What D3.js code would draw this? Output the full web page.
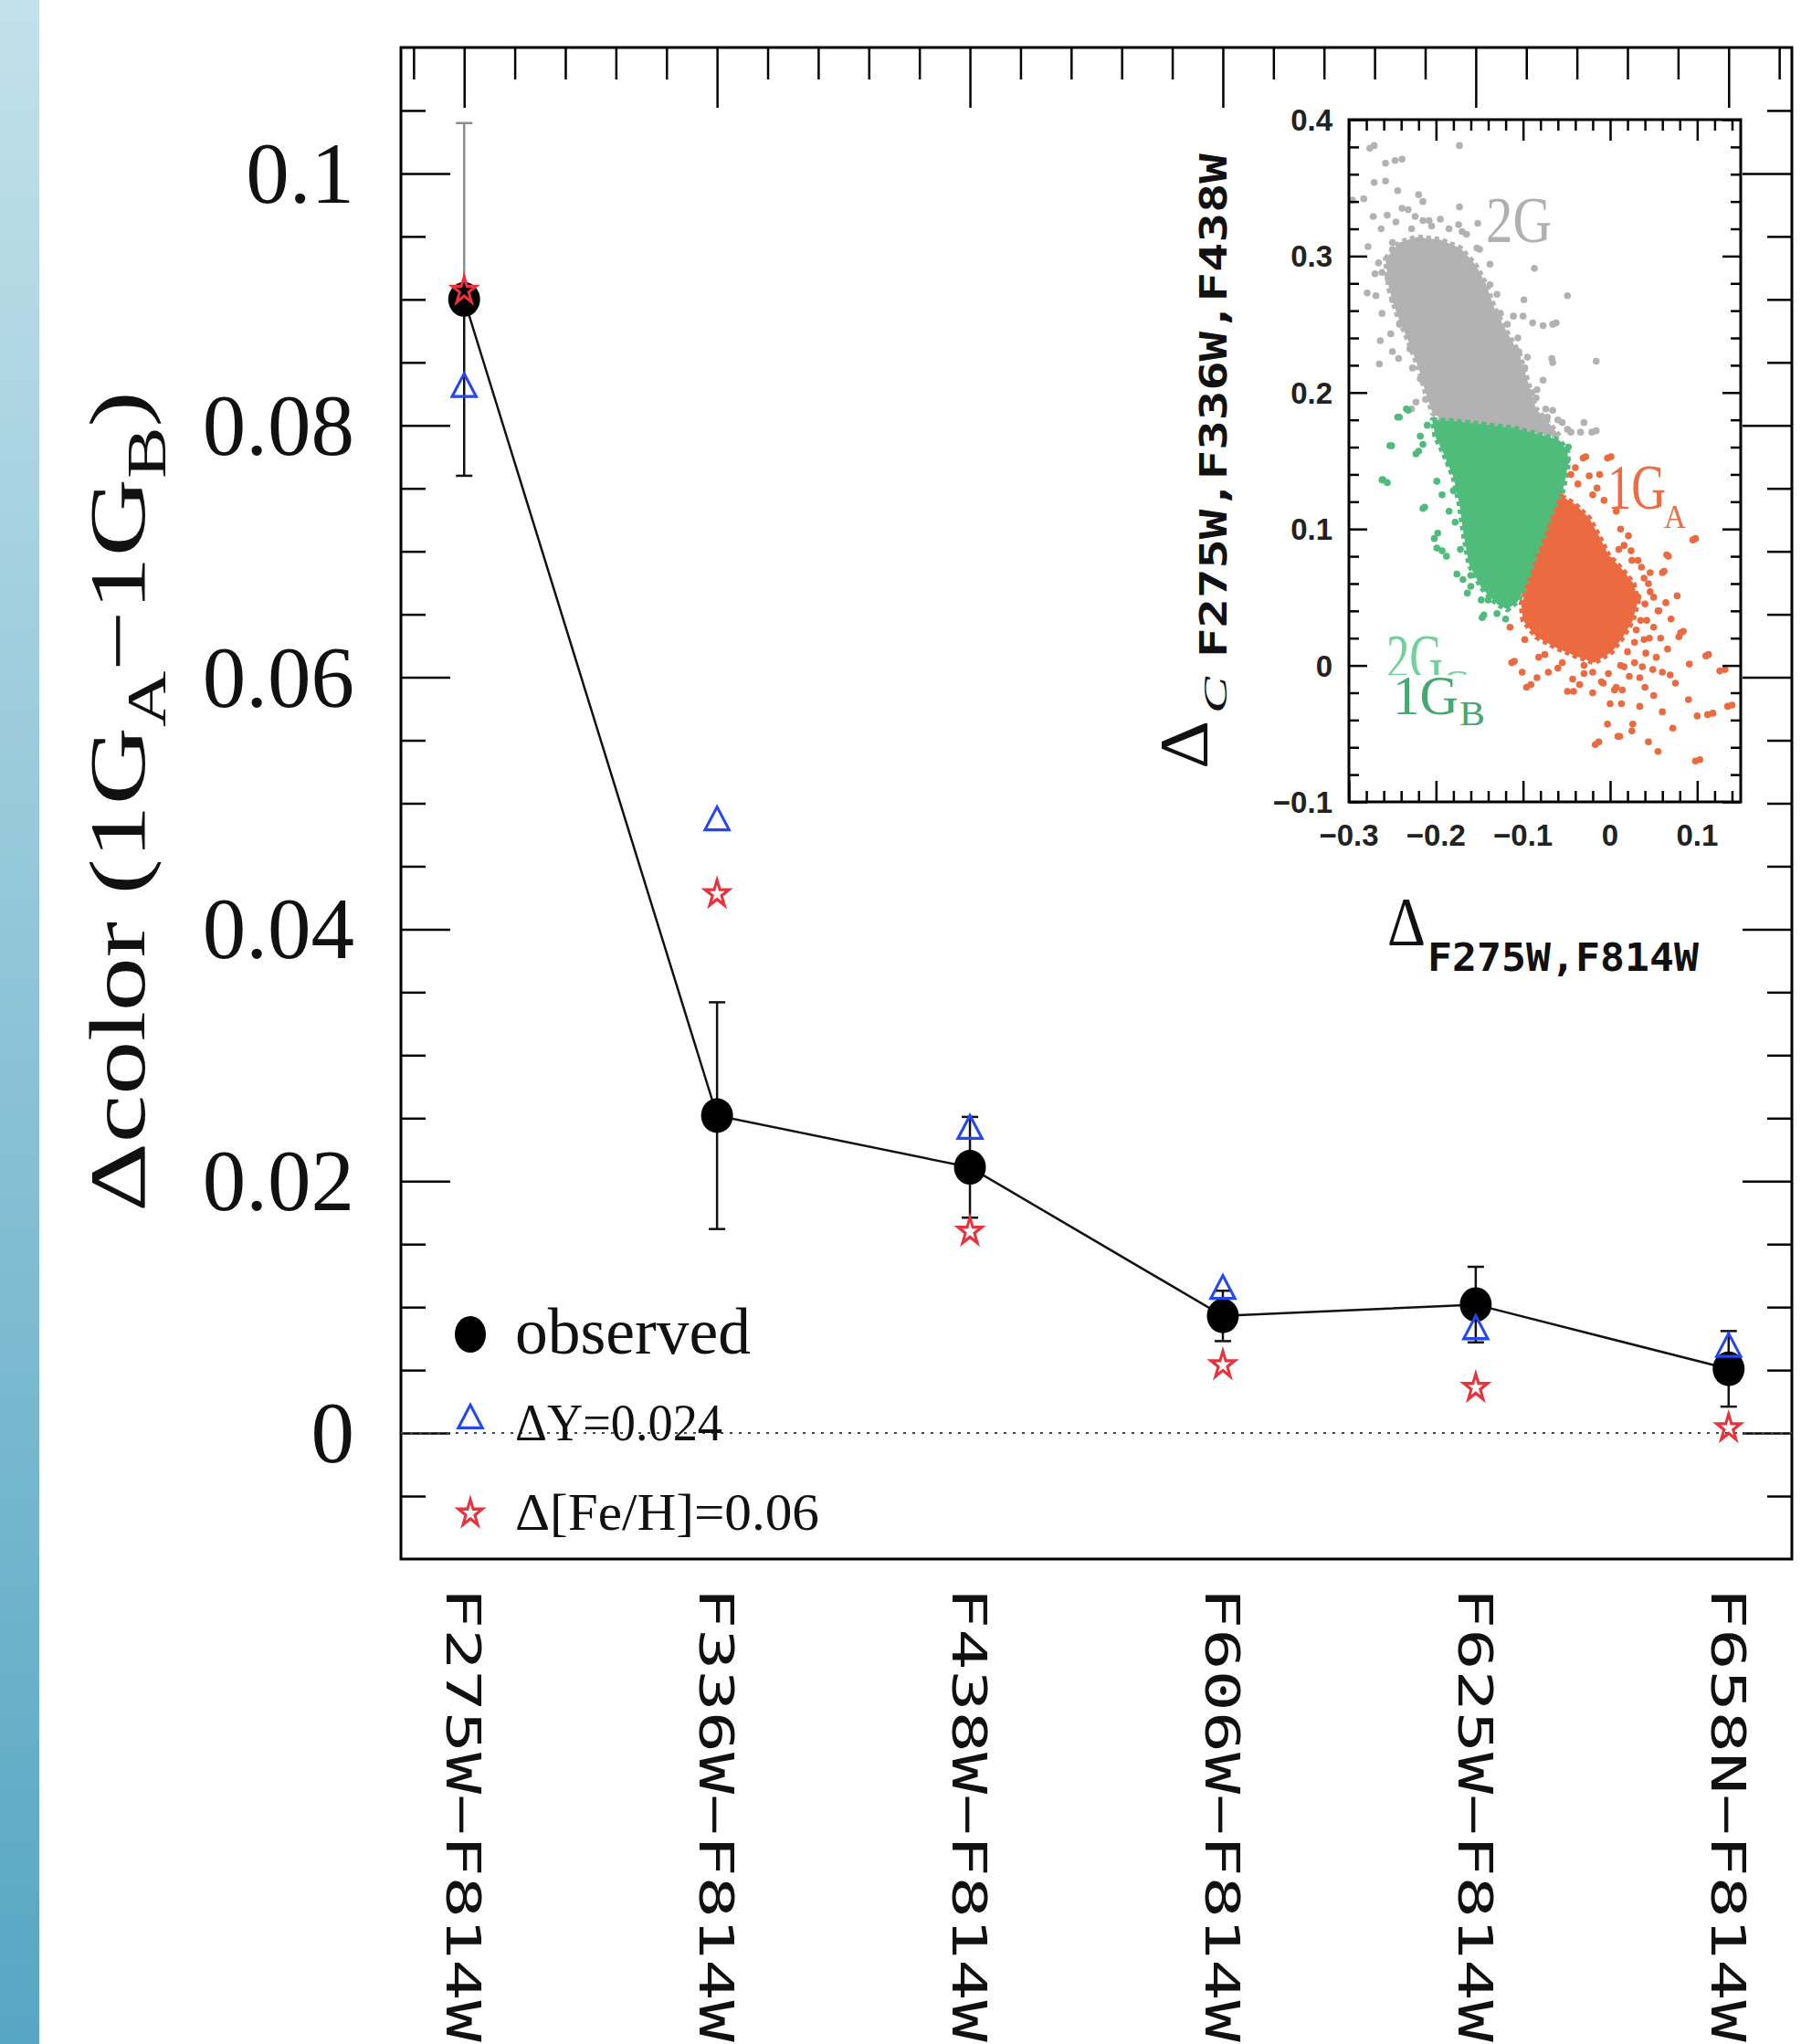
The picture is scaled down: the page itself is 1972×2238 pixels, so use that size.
<!DOCTYPE html>
<html>
<head>
<meta charset="utf-8">
<script src="https://cdn.jsdelivr.net/npm/d3@7"></script>
<style>
  html, body { margin: 0; padding: 0; background: #fff; }
  svg { display: block; }
</style>
</head>
<body>
<script>
// ---------------- data ----------------
var filters = ["F275W\u2212F814W", "F336W\u2212F814W", "F438W\u2212F814W",
               "F606W\u2212F814W", "F625W\u2212F814W", "F658N\u2212F814W"];
var observed    = [0.0900, 0.0252, 0.0211, 0.0093, 0.0102, 0.0051];
var observedErr = [0.0140, 0.0090, 0.0040, 0.0020, 0.0030, 0.0030];
var heliumModel = [0.0829, 0.0485, 0.0240, 0.0113, 0.0081, 0.0067];   // ΔY=0.024
var metalModel  = [0.0907, 0.0428, 0.0160, 0.0054, 0.0036, 0.0004];   // Δ[Fe/H]=0.06
var legendLabels = ["observed", "\u0394Y=0.024", "\u0394[Fe/H]=0.06"];

var yTickValues = [0, 0.02, 0.04, 0.06, 0.08, 0.1];
var yTickLabels = ["0", "0.02", "0.04", "0.06", "0.08", "0.1"];

// inset chromosome map
var insetXTicks  = [-0.3, -0.2, -0.1, 0, 0.1];
var insetXLabels = ["\u22120.3", "\u22120.2", "\u22120.1", "0", "0.1"];
var insetYTicks  = [-0.1, 0, 0.1, 0.2, 0.3, 0.4];
var insetYLabels = ["\u22120.1", "0", "0.1", "0.2", "0.3", "0.4"];

// dense cores of each population (outline of the crowded region)
var grayCore = [[-0.258,0.298],[-0.242,0.310],[-0.222,0.314],[-0.195,0.312],[-0.172,0.306],[-0.155,0.294],
  [-0.143,0.280],[-0.133,0.262],[-0.120,0.246],[-0.104,0.228],[-0.094,0.207],[-0.085,0.188],[-0.068,0.176],
  [-0.058,0.168],[-0.080,0.170],[-0.111,0.173],[-0.150,0.176],[-0.190,0.179],[-0.204,0.185],[-0.212,0.200],
  [-0.220,0.218],[-0.232,0.238],[-0.244,0.256],[-0.254,0.276]];
var greenCore = [[-0.204,0.180],[-0.180,0.179],[-0.150,0.177],[-0.111,0.174],[-0.080,0.169],[-0.058,0.165],
  [-0.049,0.157],[-0.048,0.148],[-0.052,0.135],[-0.056,0.124],[-0.065,0.111],[-0.075,0.095],[-0.086,0.077],
  [-0.096,0.059],[-0.106,0.047],[-0.118,0.041],[-0.130,0.045],[-0.148,0.057],[-0.162,0.074],[-0.168,0.095],
  [-0.173,0.118],[-0.180,0.138],[-0.191,0.155],[-0.201,0.168]];
var orangeCore = [[-0.056,0.124],[-0.040,0.118],[-0.024,0.108],[-0.012,0.094],[-0.002,0.081],[0.013,0.071],
  [0.027,0.060],[0.032,0.047],[0.026,0.033],[0.015,0.021],[0.002,0.010],[-0.018,0.002],[-0.040,0.007],
  [-0.062,0.013],[-0.085,0.021],[-0.100,0.033],[-0.102,0.045],[-0.094,0.059],[-0.084,0.077],[-0.073,0.095],
  [-0.064,0.111]];

// individual stars outside / on the edge of the cores
var grayStars = [[-0.271,0.381],[-0.173,0.381],[-0.258,0.368],[-0.239,0.371],[-0.271,0.354],[-0.258,0.355],
  [-0.244,0.348],[-0.283,0.342],[-0.296,0.341],[-0.220,0.345],[-0.215,0.340],[-0.239,0.335],[-0.232,0.334],
  [-0.224,0.329],[-0.173,0.336],[-0.195,0.327],[-0.215,0.326],[-0.208,0.326],[-0.174,0.323],[-0.170,0.318],
  [-0.152,0.324],[-0.272,0.329],[-0.256,0.330],[-0.246,0.325],[-0.263,0.320],[-0.278,0.307],[-0.153,0.306],
  [-0.138,0.294],[-0.087,0.291],[-0.049,0.271],[-0.099,0.268],[-0.279,0.273],[-0.269,0.271],[-0.270,0.287],
  [-0.126,0.258],[-0.111,0.256],[-0.100,0.256],[-0.089,0.251],[-0.077,0.249],[-0.066,0.250],[-0.138,0.279],
  [-0.264,0.238],[-0.265,0.221],[-0.250,0.230],[-0.243,0.225],[-0.227,0.218],[-0.223,0.193],[-0.228,0.188],
  [-0.066,0.222],[-0.077,0.209],[-0.066,0.187],[-0.049,0.173],[-0.060,0.180],[-0.098,0.218],[-0.090,0.200],
  [-0.105,0.230],[-0.045,0.171],[-0.021,0.171],[-0.034,0.171],[-0.055,0.178],[-0.016,0.223],[-0.062,0.251],
  [-0.067,0.225],[-0.030,0.178],[-0.016,0.172],[-0.084,0.202],[-0.072,0.182],[-0.276,0.379],[-0.247,0.370],
  [-0.266,0.295],[-0.255,0.284],[-0.250,0.268],[-0.262,0.258],[-0.252,0.243],[-0.240,0.300],[-0.250,0.305],
  [-0.130,0.272],[-0.118,0.250],[-0.106,0.240],[-0.095,0.226],[-0.085,0.196],[-0.074,0.188],[-0.150,0.305],
  [-0.165,0.316],[-0.185,0.320],[-0.205,0.322],[-0.228,0.320],[-0.250,0.310],[-0.262,0.288],[-0.242,0.250],
  [-0.230,0.232],[-0.218,0.210],[-0.212,0.195]];
var greenStars = [[-0.242,0.182],[-0.232,0.187],[-0.251,0.161],[-0.261,0.136],[-0.256,0.134],[-0.220,0.157],
  [-0.213,0.116],[-0.198,0.097],[-0.193,0.084],[-0.169,0.063],[-0.160,0.058],[-0.145,0.037],[-0.164,0.053],
  [-0.148,0.048],[-0.147,0.035],[-0.176,0.067],[-0.130,0.038],[-0.234,0.188],[-0.244,0.182],[-0.253,0.161],
  [-0.262,0.136],[-0.223,0.155],[-0.218,0.168],[-0.215,0.162],[-0.215,0.115],[-0.199,0.135],[-0.193,0.125],
  [-0.202,0.093],[-0.199,0.086],[-0.188,0.080],[-0.185,0.148],[-0.180,0.128],[-0.178,0.105],[-0.172,0.085],
  [-0.160,0.066],[-0.140,0.048],[-0.120,0.034],[-0.210,0.176],[-0.196,0.170],[-0.188,0.160],[-0.185,0.113],
  [-0.176,0.140],[-0.048,0.160],[-0.050,0.150]];
var orangeStars = [[-0.115,0.028],[-0.113,0.002],[-0.101,-0.005],[-0.096,-0.016],[-0.084,-0.009],[-0.071,-0.005],
  [-0.082,0.006],[-0.098,0.019],[-0.043,-0.010],[-0.042,-0.019],[-0.017,-0.058],[-0.003,-0.043],[0.009,-0.052],
  [0.025,-0.048],[0.026,-0.043],[0.013,-0.028],[0.014,-0.018],[0.007,-0.016],[-0.008,-0.013],[0.016,-0.001],
  [0.034,-0.030],[0.034,-0.009],[0.044,-0.056],[0.055,-0.063],[0.060,-0.034],[0.072,-0.046],[0.090,-0.025],
  [0.100,-0.037],[0.098,-0.070],[0.112,-0.036],[0.135,-0.030],[0.126,-0.004],[0.110,0.007],[0.091,0.001],
  [0.075,-0.013],[0.069,-0.007],[0.060,-0.005],[0.049,-0.003],[0.037,-0.001],[0.041,0.009],[0.053,0.006],
  [0.079,0.021],[0.077,0.051],[0.056,0.040],[0.042,0.033],[0.039,0.019],[0.035,0.033],[0.028,0.017],
  [0.005,-0.018],[-0.049,-0.019],[-0.010,-0.012],[-0.020,-0.005],[0.060,0.068],[-0.031,0.152],[-0.003,0.152],
  [-0.024,0.139],[-0.037,0.133],[-0.015,0.130],[-0.007,0.121],[0.007,0.113],[0.021,0.095],[0.095,0.092],
  [0.065,0.081],[0.062,0.069],[0.046,0.068],[0.039,0.064],[0.025,0.077],[0.032,0.077],[0.000,0.077],
  [-0.003,0.071],[0.003,0.064],[0.032,0.050],[0.046,0.054],[0.055,0.040],[0.081,0.024],[0.018,0.035],
  [0.007,0.019],[-0.028,0.153],[0.001,0.153],[0.098,0.093],[0.067,0.080],[0.084,0.025],[0.113,0.008],
  [0.132,-0.003],[0.140,-0.029],[0.118,-0.035],[0.103,-0.069],[-0.013,-0.056],[-0.110,0.003],[-0.091,-0.014],
  [0.011,-0.052],[0.020,0.010],[0.028,0.002],[0.012,0.000],[-0.002,-0.006],[-0.030,-0.006],[-0.055,0.002],
  [-0.075,0.008],[0.045,0.020],[0.050,0.028],[0.040,0.045],[0.020,0.045],[0.010,0.055],[-0.030,0.000],
  [-0.045,0.140],[-0.040,0.145],[-0.020,0.125],[0.012,0.100],[0.010,0.085],[-0.012,0.140],
  [0.016,0.088],[0.024,0.084],[0.036,0.072],[0.044,0.060],[0.050,0.050],[0.064,0.046],[0.070,0.034],
  [0.058,0.020],[0.066,0.012],[0.022,-0.008],[0.040,-0.016],[0.050,-0.022],[-0.060,-0.002],[-0.035,-0.014],
  [-0.020,-0.020],[0.000,-0.028],[0.030,0.026],[0.006,0.030],[-0.010,0.044]];

// ---------------- page ----------------
var W = 1972, H = 2238;
var svg = d3.select("body").append("svg").attr("width", W).attr("height", H);

var serif = "'Liberation Serif', 'Times New Roman', serif";
var mono  = "'DejaVu Sans Mono', monospace";
var sans  = "'Liberation Sans', Arial, sans-serif";

// blue slide strip on the left
var grad = svg.append("defs").append("linearGradient").attr("id", "strip")
  .attr("x1", 0).attr("y1", 0).attr("x2", 0).attr("y2", 1);
grad.append("stop").attr("offset", "0%").attr("stop-color", "#c2e1ea");
grad.append("stop").attr("offset", "100%").attr("stop-color", "#57a6c3");
svg.append("rect").attr("x", 0).attr("y", 0).attr("width", 43).attr("height", H).attr("fill", "url(#strip)");

// puts a text at (x,y), rotated, stretched along its own direction to a given length
function fitText(t, x, y, rot, len) {
  var s = 1;
  if (len) s = len / t.node().getComputedTextLength();
  t.attr("transform", "translate(" + x + "," + y + ") rotate(" + rot + ") scale(" + s + ",1)");
  return t;
}

// ---------------- main panel ----------------
var mL = 439, mR = 1962, mT = 52, mB = 1707;
var x = d3.scaleLinear().domain([0.75, 6.25]).range([mL, mR]);
var y = d3.scaleLinear().domain([-0.01, 0.11]).range([mB, mT]);
var cat = function(i) { return x(i + 1); };

var main = svg.append("g");

function tickAxis(axis, tr, vals, size) {
  main.append("g").attr("transform", tr)
    .call(axis.tickValues(vals).tickSize(size).tickFormat(""))
    .call(function(g) {
      g.select(".domain").remove();
      g.selectAll("line").attr("stroke", "#000").attr("stroke-width", 2.5);
    });
}
var xMinor = d3.range(4, 32).filter(function(k) { return k % 5 !== 0; }).map(function(k) { return k / 5; });
var xMajor = d3.range(1, 7);
var yMinor = d3.range(-1, 22).filter(function(k) { return k % 4 !== 0; }).map(function(k) { return k * 0.005; });

tickAxis(d3.axisBottom(x), "translate(0," + mT + ")", xMajor, 66);
tickAxis(d3.axisBottom(x), "translate(0," + mT + ")", xMinor, 35);
tickAxis(d3.axisRight(y), "translate(" + mL + ",0)", yTickValues, 54);
tickAxis(d3.axisRight(y), "translate(" + mL + ",0)", yMinor, 27);
tickAxis(d3.axisLeft(y), "translate(" + mR + ",0)", yTickValues, 54);
tickAxis(d3.axisLeft(y), "translate(" + mR + ",0)", yMinor, 27);

main.append("rect").attr("x", mL).attr("y", mT)
  .attr("width", mR - mL).attr("height", mB - mT)
  .attr("fill", "none").attr("stroke", "#000").attr("stroke-width", 3);

// y tick labels
yTickValues.forEach(function(v, i) {
  main.append("text").attr("x", 388).attr("y", y(v) + 32)
    .attr("text-anchor", "end").attr("font-family", serif).attr("font-size", 95)
    .attr("fill", "#111").text(yTickLabels[i]);
});

// x tick labels, rotated, reading downward
filters.forEach(function(f, i) {
  var t = main.append("text").attr("font-family", mono).attr("font-size", 52)
    .attr("fill", "#111").text(f);
  fitText(t, cat(i) - 19, 1738, 90, 498);
});

// y axis title
var yt = main.append("text").attr("font-family", serif).attr("font-size", 86).attr("fill", "#111");
yt.append("tspan").text("\u0394color (1G");
yt.append("tspan").attr("font-size", 62).attr("dy", 23).text("A");
yt.append("tspan").attr("dy", -23).text("\u22121G");
yt.append("tspan").attr("font-size", 62).attr("dy", 23).text("B");
yt.append("tspan").attr("dy", -23).text(")");
fitText(yt, 158, 1327, -90, 899);

// zero line
main.append("line").attr("x1", mL).attr("x2", mR).attr("y1", y(0)).attr("y2", y(0))
  .attr("stroke", "#444").attr("stroke-width", 2).attr("stroke-dasharray", "3,7");

// observed sequence
main.append("path").datum(observed)
  .attr("d", d3.line().x(function(d, i) { return cat(i); }).y(function(d) { return y(d); }))
  .attr("fill", "none").attr("stroke", "#111").attr("stroke-width", 2.5);

observed.forEach(function(v, i) {
  var cx = cat(i), e = observedErr[i];
  var upColor = i === 0 ? "#8c8c8c" : "#111";
  main.append("line").attr("x1", cx).attr("x2", cx).attr("y1", y(v)).attr("y2", y(v + e))
    .attr("stroke", upColor).attr("stroke-width", 2.5);
  main.append("line").attr("x1", cx - 9).attr("x2", cx + 9).attr("y1", y(v + e)).attr("y2", y(v + e))
    .attr("stroke", upColor).attr("stroke-width", 2.5);
  main.append("line").attr("x1", cx).attr("x2", cx).attr("y1", y(v)).attr("y2", y(v - e))
    .attr("stroke", "#111").attr("stroke-width", 2.5);
  main.append("line").attr("x1", cx - 9).attr("x2", cx + 9).attr("y1", y(v - e)).attr("y2", y(v - e))
    .attr("stroke", "#111").attr("stroke-width", 2.5);
});

main.selectAll("ellipse.obs").data(observed).join("ellipse").attr("class", "obs")
  .attr("cx", function(d, i) { return cat(i); }).attr("cy", function(d) { return y(d); })
  .attr("rx", 17.5).attr("ry", 19).attr("fill", "#000");

var triSym = d3.symbol().type(d3.symbolTriangle).size(300);
var starSym = d3.symbol().type(d3.symbolStar).size(210);
var blue = "#2448ee", red = "#e8323c";

main.selectAll("path.he").data(heliumModel).join("path").attr("class", "he")
  .attr("d", triSym)
  .attr("transform", function(d, i) { return "translate(" + cat(i) + "," + y(d) + ") scale(1,1.1)"; })
  .attr("fill", "none").attr("stroke", blue).attr("stroke-width", 3);

main.selectAll("path.fe").data(metalModel).join("path").attr("class", "fe")
  .attr("d", starSym)
  .attr("transform", function(d, i) { return "translate(" + cat(i) + "," + y(d) + ") scale(1,1.12)"; })
  .attr("fill", "none").attr("stroke", red).attr("stroke-width", 3);

// legend
var lg = main.append("g");
lg.append("ellipse").attr("cx", 515).attr("cy", 1461).attr("rx", 17).attr("ry", 20).attr("fill", "#000");
lg.append("path").attr("d", triSym).attr("transform", "translate(515,1555) scale(1,1.1)")
  .attr("fill", "none").attr("stroke", blue).attr("stroke-width", 3);
lg.append("path").attr("d", starSym).attr("transform", "translate(515,1657) scale(1,1.12)")
  .attr("fill", "none").attr("stroke", red).attr("stroke-width", 3);
var legendPos = [[564, 1482, 72, 258], [564, 1577, 58, 227], [564, 1675, 58, 333]];
legendLabels.forEach(function(s, i) {
  var p = legendPos[i];
  var t = lg.append("text").attr("font-family", serif).attr("font-size", p[2]).attr("fill", "#111").text(s);
  fitText(t, p[0], p[1], 0, p[3]);
});

// ---------------- inset ----------------
var iL = 1477, iR = 1906, iT = 131, iB = 878;
var ix = d3.scaleLinear().domain([-0.3, 0.15]).range([iL, iR]);
var iy = d3.scaleLinear().domain([-0.1, 0.4]).range([iB, iT]);
var ins = svg.append("g");

var grayCol = "#b2b2b2", greenCol = "#50bc7c", orangeCol = "#ec6a40";
var hull = d3.line().x(function(d) { return ix(d[0]); }).y(function(d) { return iy(d[1]); })
  .curve(d3.curveLinearClosed);

function population(core, stars, col) {
  ins.append("path").datum(core).attr("d", hull).attr("fill", col).attr("stroke", col)
    .attr("stroke-width", 6).attr("stroke-dasharray", "5,4").attr("stroke-linejoin", "round");
  ins.append("g").selectAll("circle").data(stars).join("circle")
    .attr("cx", function(d) { return ix(d[0]); }).attr("cy", function(d) { return iy(d[1]); })
    .attr("r", 3.8).attr("fill", col);
}
population(grayCore, grayStars, grayCol);
population(greenCore, greenStars, greenCol);
population(orangeCore, orangeStars, orangeCol);

function insetTicks(axis, tr, vals, size) {
  ins.append("g").attr("transform", tr)
    .call(axis.tickValues(vals).tickSize(size).tickFormat(""))
    .call(function(g) {
      g.select(".domain").remove();
      g.selectAll("line").attr("stroke", "#000").attr("stroke-width", 2.5);
    });
}
var ixMinor = d3.range(-14, 8).filter(function(k) { return k % 5 !== 0; }).map(function(k) { return k * 0.02; });
var iyMinor = d3.range(-4, 20).filter(function(k) { return k % 5 !== 0; }).map(function(k) { return k * 0.02; });
insetTicks(d3.axisBottom(ix), "translate(0," + iT + ")", insetXTicks, 23);
insetTicks(d3.axisBottom(ix), "translate(0," + iT + ")", ixMinor, 12);
insetTicks(d3.axisTop(ix), "translate(0," + iB + ")", insetXTicks, 23);
insetTicks(d3.axisTop(ix), "translate(0," + iB + ")", ixMinor, 12);
insetTicks(d3.axisRight(iy), "translate(" + iL + ",0)", insetYTicks, 20);
insetTicks(d3.axisRight(iy), "translate(" + iL + ",0)", iyMinor, 11);
insetTicks(d3.axisLeft(iy), "translate(" + iR + ",0)", insetYTicks, 20);
insetTicks(d3.axisLeft(iy), "translate(" + iR + ",0)", iyMinor, 11);

ins.append("rect").attr("x", iL).attr("y", iT).attr("width", iR - iL).attr("height", iB - iT)
  .attr("fill", "none").attr("stroke", "#000").attr("stroke-width", 3);

insetXTicks.forEach(function(v, i) {
  ins.append("text").attr("x", ix(v)).attr("y", 926).attr("text-anchor", "middle")
    .attr("font-family", sans).attr("font-weight", "bold").attr("font-size", 33)
    .attr("fill", "#222").text(insetXLabels[i]);
});
insetYTicks.forEach(function(v, i) {
  ins.append("text").attr("x", 1459).attr("y", iy(v) + 12).attr("text-anchor", "end")
    .attr("font-family", sans).attr("font-weight", "bold").attr("font-size", 33)
    .attr("fill", "#222").text(insetYLabels[i]);
});

// inset axis titles
fitText(ins.append("text").attr("font-family", serif).attr("font-size", 76).attr("fill", "#111")
  .text("\u0394"), 1322, 842, -90, 53);
fitText(ins.append("text").attr("font-family", serif).attr("font-style", "italic").attr("font-size", 36)
  .attr("fill", "#111").text("C"), 1343, 781, -90, 40);
fitText(ins.append("text").attr("font-family", mono).attr("font-weight", "bold").attr("font-size", 41)
  .attr("fill", "#111").text("F275W,F336W,F438W"), 1343, 720, -90, 552);
fitText(ins.append("text").attr("font-family", serif).attr("font-size", 76).attr("fill", "#111")
  .text("\u0394"), 1519, 1035, 0, 42);
fitText(ins.append("text").attr("font-family", mono).attr("font-weight", "bold").attr("font-size", 42)
  .attr("fill", "#111").text("F275W,F814W"), 1563, 1063, 0, 297);

// population labels
function tag(str, px, py, size, len, col) {
  return fitText(ins.append("text").attr("font-family", serif).attr("font-size", size)
    .attr("fill", col).text(str), px, py, 0, len);
}
tag("2G", 1627, 265, 71, 72, "#b0b0b0");
tag("1G", 1760, 557, 70, 64, "#ee6c44");
tag("A", 1822, 578, 36, 24, "#ee6c44");
tag("2G", 1518, 743, 70, 62, "#72d09a");
tag("C", 1580, 760, 38, 28, "#72d09a");
ins.append("rect").attr("x", 1512).attr("y", 739).attr("width", 125).attr("height", 60).attr("fill", "#fff");
tag("1G", 1525, 782, 62, 72, "#46a870");
tag("B", 1598, 794, 38, 28, "#46a870");
</script>
</body>
</html>
